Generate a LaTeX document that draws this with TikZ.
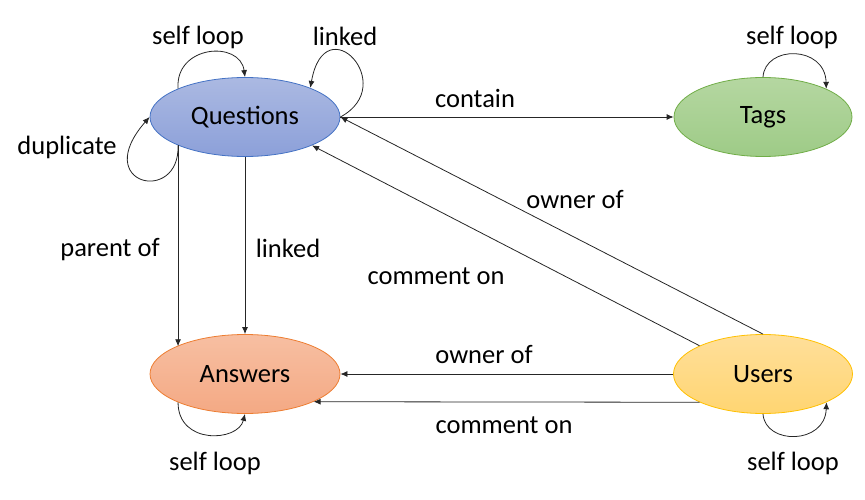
\documentclass[tikz,border=0pt]{standalone}
\usepackage{fontspec}
\setmainfont{Carlito}
\usetikzlibrary{shapes.geometric,arrows.meta,calc}
\definecolor{qtop}{HTML}{ABB9E2}
\definecolor{qbot}{HTML}{8CA0D9}
\definecolor{qbd}{HTML}{4472C4}
\definecolor{ttop}{HTML}{B5D7A1}
\definecolor{tbot}{HTML}{9ECB87}
\definecolor{tbd}{HTML}{70AD47}
\definecolor{atop}{HTML}{F7BFA2}
\definecolor{abot}{HTML}{F4A984}
\definecolor{abd}{HTML}{ED7D31}
\definecolor{utop}{HTML}{FFDF9A}
\definecolor{ubot}{HTML}{FFD572}
\definecolor{ubd}{HTML}{FFC000}
\tikzset{
  ent/.style={ellipse, minimum height=79pt, inner sep=0pt, line width=0.8pt,
    font=\fontsize{26.5}{31}\selectfont},
  lbl/.style={font=\fontsize{26.5}{31}\selectfont, inner sep=0pt},
  arr/.style={-{Latex[length=7pt,width=6pt]}, line width=0.8pt, draw=black!85},
}
\begin{document}
\begin{tikzpicture}[x=1pt,y=-1pt]
\useasboundingbox (0,0) rectangle (865,500);
\node[ent, minimum width=190pt, draw=qbd, top color=qtop, bottom color=qbot] (Q) at (245,117) {Questions};
\node[ent, minimum width=178pt, draw=tbd, top color=ttop, bottom color=tbot] (T) at (763,117) {Tags};
\node[ent, minimum width=190pt, draw=abd, top color=atop, bottom color=abot] (A) at (245,374) {Answers};
\node[ent, minimum width=179pt, draw=ubd, top color=utop, bottom color=ubot] (U) at (763,374) {Users};

% straight edges
\draw[arr] (Q.east) -- (T.west);
\draw[arr] (U.north) -- (Q.east);
\draw[arr] (U.156) -- (Q.-23);
\draw[arr] (Q.203) -- (Q.203 |- A.158);
\draw[arr] (Q.south) -- (A.north);
\draw[arr] (U.west) -- (A.east);
\draw[arr] (U.204) -- (A.-22.7);

% loops
\draw[arr] (Q.157) .. controls (175,45) and (240,40) .. (Q.north);
\draw[arr] (Q.east) .. controls (400,85) and (325,5) .. (Q.24);
\draw[arr] (Q.203) .. controls (180,205) and (90,185) .. (Q.west);
\draw[arr] (T.north) .. controls (765,45) and (825,45) .. (T.24);
\draw[arr] (A.-157) .. controls (178,445) and (238,442) .. (A.south);
\draw[arr] (U.south) .. controls (765,445) and (825,445) .. (U.-24);

% labels
\node[lbl] (l1) at (198,37) {self loop};
\node[lbl] (l2) at (345,36) {linked};
\node[lbl] (l3) at (67,147) {duplicate};
\node[lbl] (l4) at (792,37) {self loop};
\node[lbl] (l5) at (475,98) {contain};
\node[lbl] (l6) at (575,200) {owner of};
\node[lbl] (l7) at (436,276) {comment on};
\node[lbl] (l8) at (110,250) {parent of};
\node[lbl] (l9) at (288,248) {linked};
\node[lbl] (l10) at (484,355) {owner of};
\node[lbl] (l11) at (504,425) {comment on};
\node[lbl] (l12) at (215,463) {self loop};
\node[lbl] (l13) at (793,463) {self loop};
\end{tikzpicture}
\end{document}
